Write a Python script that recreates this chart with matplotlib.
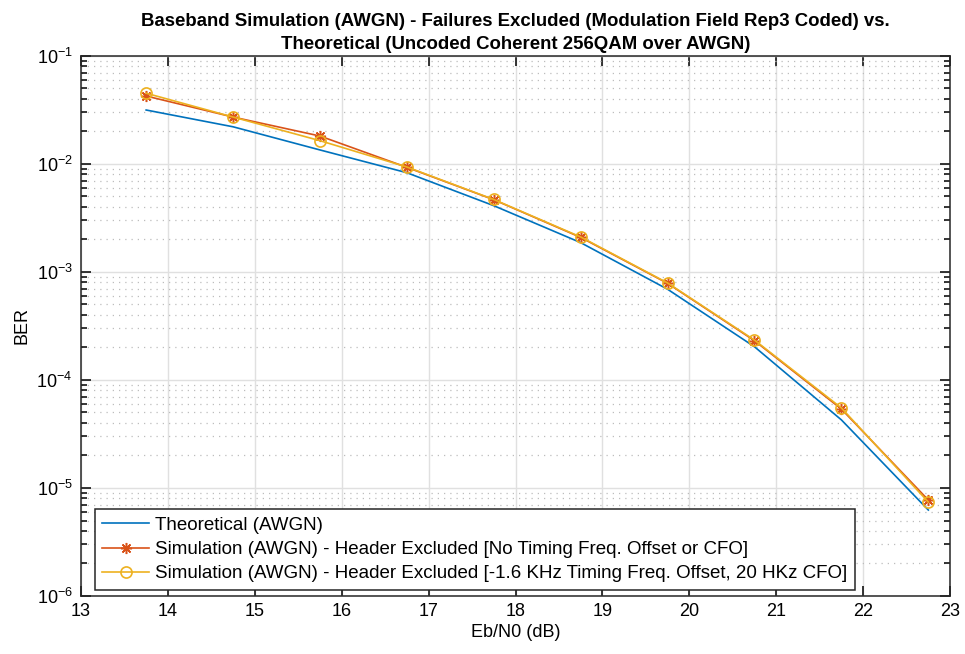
import numpy as np
import matplotlib
matplotlib.use("Agg")
import matplotlib.pyplot as plt
from matplotlib.ticker import LogLocator, NullFormatter

plt.rcParams['font.family'] = ['Liberation Sans', 'DejaVu Sans']
plt.rcParams['mathtext.default'] = 'regular'

# Eb/N0 points (dB)
ebn0 = [13.75, 14.75, 15.75, 16.75, 17.75, 18.75, 19.75, 20.75, 21.75, 22.75]

# BER values
ber_theory = [3.16e-2, 2.21e-2, 1.349e-2, 8.30e-3, 4.11e-3, 1.87e-3, 6.92e-4, 2.03e-4, 4.27e-5, 6.25e-6]
ber_sim_nocfo = [4.26e-2, 2.72e-2, 1.815e-2, 9.31e-3, 4.67e-3, 2.09e-3, 7.85e-4, 2.31e-4, 5.38e-5, 7.74e-6]
ber_sim_cfo = [4.52e-2, 2.72e-2, 1.644e-2, 9.38e-3, 4.69e-3, 2.11e-3, 7.91e-4, 2.34e-4, 5.51e-5, 7.41e-6]

labels = ['Theoretical (AWGN)',
          'Simulation (AWGN) - Header Excluded [No Timing Freq. Offset or CFO]',
          'Simulation (AWGN) - Header Excluded [-1.6 KHz Timing Freq. Offset, 20 HKz CFO]']

fig = plt.figure(figsize=(9.65, 6.54), dpi=100)
ax = fig.add_axes([0.0839, 0.0887, 0.9006, 0.8257])

ax.semilogy(ebn0, ber_theory, color='#0072BD', lw=1.2, label=labels[0])
ax.semilogy(ebn0, ber_sim_nocfo, color='#D95319', lw=1.2, marker=(8, 2, 0), ms=8,
            mew=1.1, label=labels[1])
ax.semilogy(ebn0, ber_sim_cfo, color='#EDB120', lw=1.2, marker='o', ms=8,
            mfc='none', mew=1.2, label=labels[2])

ax.set_xlim(13, 23)
ax.set_ylim(1e-6, 1e-1)
ax.set_xticks(range(13, 24))
ax.yaxis.set_minor_locator(LogLocator(base=10, subs=np.arange(2, 10), numticks=20))
ax.yaxis.set_minor_formatter(NullFormatter())

ax.grid(True, which='major', color='#e0e0e0', lw=1.0, ls='-')
ax.grid(True, which='minor', axis='y', color='#bdbdbd', lw=0.9, ls=(0, (1, 4)))
ax.set_axisbelow(True)

ax.tick_params(which='both', direction='in', top=True, right=True, labelsize=13, width=1.1)
ax.tick_params(which='major', length=7)
ax.tick_params(which='minor', length=4)
ax.tick_params(axis='y', which='major', pad=6)
ax.tick_params(axis='x', which='major', pad=5)
for s in ax.spines.values():
    s.set_linewidth(1.1)
    s.set_color('#262626')

ax.set_xlabel('Eb/N0 (dB)', fontsize=13, labelpad=3)
ax.set_ylabel('BER', fontsize=13)
ax.set_title('Baseband Simulation (AWGN) - Failures Excluded (Modulation Field Rep3 Coded) vs.\n'
             'Theoretical (Uncoded Coherent 256QAM over AWGN)', fontsize=13.4,
             fontweight='bold', linespacing=1.45, pad=5)

leg = ax.legend(loc='lower left', bbox_to_anchor=(0.0161, 0.0111), borderaxespad=0,
                fontsize=13.5, fancybox=False, framealpha=1, edgecolor='#262626',
                borderpad=0.4, labelspacing=0.38, handlelength=2.5, handletextpad=0.3)
leg.get_frame().set_linewidth(1.1)

fig.savefig('out.png', dpi=100)
